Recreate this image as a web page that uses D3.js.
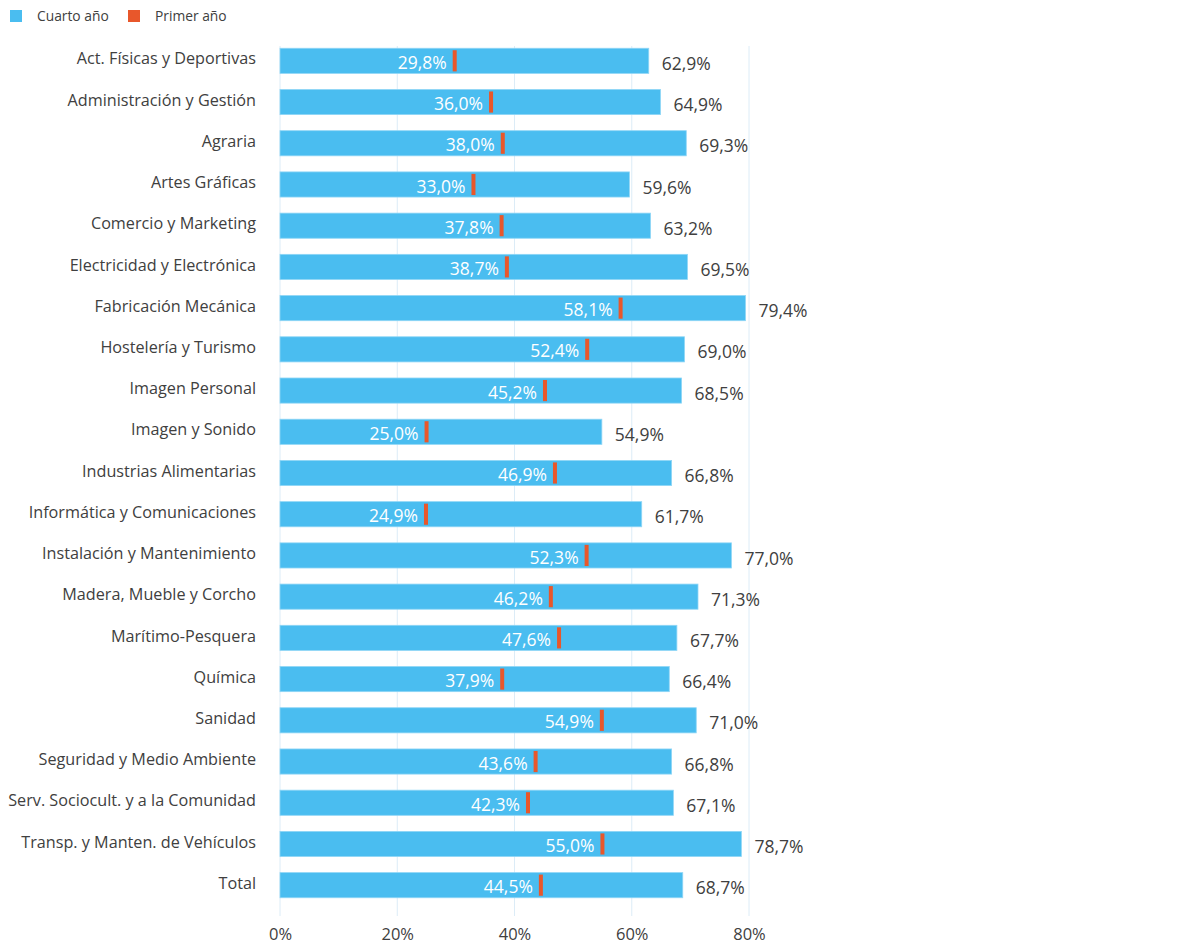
<!DOCTYPE html>
<html>
<head>
<meta charset="utf-8">
<script src="https://cdn.jsdelivr.net/npm/d3@7"></script>
<style>
  body { margin: 0; background: #fff; }
  svg { font-family: "Open Sans", sans-serif; }
</style>
</head>
<body>
<div id="chart"></div>
<script>
// datos
const categories = [
  "Act. Físicas y Deportivas", "Administración y Gestión", "Agraria", "Artes Gráficas",
  "Comercio y Marketing", "Electricidad y Electrónica", "Fabricación Mecánica",
  "Hostelería y Turismo", "Imagen Personal", "Imagen y Sonido", "Industrias Alimentarias",
  "Informática y Comunicaciones", "Instalación y Mantenimiento", "Madera, Mueble y Corcho",
  "Marítimo-Pesquera", "Química", "Sanidad", "Seguridad y Medio Ambiente",
  "Serv. Sociocult. y a la Comunidad", "Transp. y Manten. de Vehículos", "Total"
];
const cuarto = [62.9, 64.9, 69.3, 59.6, 63.2, 69.5, 79.4, 69.0, 68.5, 54.9, 66.8,
  61.7, 77.0, 71.3, 67.7, 66.4, 71.0, 66.8, 67.1, 78.7, 68.7];
const primer = [29.8, 36.0, 38.0, 33.0, 37.8, 38.7, 58.1, 52.4, 45.2, 25.0, 46.9,
  24.9, 52.3, 46.2, 47.6, 37.9, 54.9, 43.6, 42.3, 55.0, 44.5];
const xTicks = [0, 20, 40, 60, 80];
const legendLabels = ["Cuarto año", "Primer año"];

const blue = "#4abdf0";
const red = "#e8572b";
const textColor = "#404040";

const width = 1180, height = 950;
const plotLeft = 280, plotRight = 749;
const plotTop = 40, plotBottom = 906;

const fmt = v => v.toFixed(1).replace(".", ",") + "%";

const svg = d3.select("#chart").append("svg")
  .attr("width", width)
  .attr("height", height);

const x = d3.scaleLinear().domain([0, 80]).range([plotLeft, plotRight]);
const y = d3.scaleBand().domain(categories).range([plotTop, plotBottom]).paddingInner(0.39).paddingOuter(0.2);

// lineas de rejilla
svg.append("g")
  .selectAll("line")
  .data(xTicks)
  .join("line")
  .attr("x1", d => x(d)).attr("x2", d => x(d))
  .attr("y1", 46).attr("y2", 916)
  .attr("stroke", "#dcecf7")
  .attr("stroke-width", 1);

// eje x
const xAxis = svg.append("g")
  .attr("transform", `translate(0, 916)`)
  .call(d3.axisBottom(x).tickValues(xTicks).tickSize(0).tickPadding(12).tickFormat(d => d + "%"));
xAxis.select(".domain").remove();
xAxis.selectAll("text")
  .attr("fill", textColor)
  .attr("font-size", "16.5px")
  .attr("font-family", "Open Sans, sans-serif");

// etiquetas de categorias
svg.append("g")
  .selectAll("text")
  .data(categories)
  .join("text")
  .attr("x", 256)
  .attr("y", d => y(d) + y.bandwidth() / 2 - 2)
  .attr("dy", "0.35em")
  .attr("text-anchor", "end")
  .attr("fill", textColor)
  .attr("font-size", "16.2px")
  .text(d => d);

const rows = categories.map((c, i) => ({ cat: c, cuarto: cuarto[i], primer: primer[i] }));

const row = svg.append("g")
  .selectAll("g")
  .data(rows)
  .join("g")
  .attr("transform", d => `translate(0, ${y(d.cat)})`);

row.append("rect")
  .attr("x", x(0))
  .attr("y", 0)
  .attr("width", d => x(d.cuarto) - x(0))
  .attr("height", y.bandwidth())
  .attr("fill", blue)
  .attr("stroke", "#8fd6f6")
  .attr("stroke-width", 0.8);

row.append("rect")
  .attr("x", d => x(d.primer) - 2)
  .attr("y", 2)
  .attr("width", 4)
  .attr("height", y.bandwidth() - 4)
  .attr("fill", red);

row.append("text")
  .attr("x", d => x(d.primer) - 8)
  .attr("y", y.bandwidth() / 2 + 2)
  .attr("dy", "0.35em")
  .attr("text-anchor", "end")
  .attr("fill", "#fff")
  .attr("font-size", "17.5px")
  .text(d => fmt(d.primer));

row.append("text")
  .attr("x", d => x(d.cuarto) + 13)
  .attr("y", y.bandwidth() / 2 + 3)
  .attr("dy", "0.35em")
  .attr("fill", textColor)
  .attr("font-size", "17.5px")
  .text(d => fmt(d.cuarto));

// leyenda
const legend = svg.append("g");
const legendX = [10, 128];
legend.selectAll("rect")
  .data(legendLabels)
  .join("rect")
  .attr("x", (d, i) => legendX[i])
  .attr("y", 10)
  .attr("width", 12)
  .attr("height", 12)
  .attr("fill", (d, i) => i === 0 ? blue : red);
legend.selectAll("text")
  .data(legendLabels)
  .join("text")
  .attr("x", (d, i) => legendX[i] + 27)
  .attr("y", 16)
  .attr("dy", "0.35em")
  .attr("fill", textColor)
  .attr("font-size", "13.8px")
  .text(d => d);
</script>
</body>
</html>
